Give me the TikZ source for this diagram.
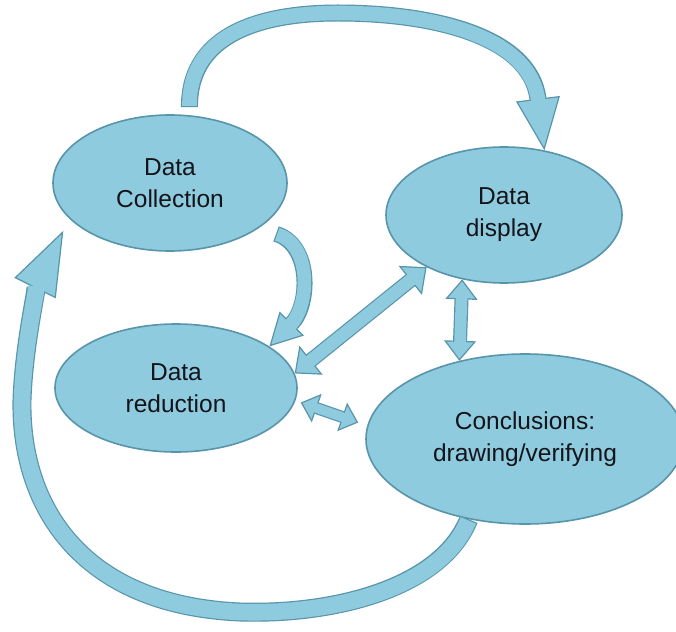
\documentclass[tikz,border=0pt]{standalone}
\usepackage{fontspec}
\setmainfont{Liberation Sans}
\usetikzlibrary{shapes.geometric, arrows.meta, calc}
\definecolor{fillblue}{RGB}{142,203,223}
\definecolor{edgeblue}{RGB}{88,148,170}
\definecolor{inkgray}{RGB}{20,20,25}

\begin{document}
\begin{tikzpicture}[x=1pt, y=-1pt,
      blob/.style={ellipse, draw=edgeblue, fill=fillblue, line width=1.6pt,
        inner sep=0pt, align=center, text=inkgray,
        font=\fontsize{24.5}{32}\selectfont},
      band/.style args={#1/#2/#3}{draw=edgeblue, line width=#1,
        arrows={-Triangle[length=#2, width=#3, fill=fillblue, line width=1.2pt]},
        postaction={draw=fillblue, line width=#1-2.4pt, arrows=-,
          shorten <=1.2pt, shorten >=#2-2pt}},
      twoband/.style args={#1/#2/#3}{draw=edgeblue, line width=#1,
        arrows={Triangle[length=#2, width=#3, fill=fillblue, line width=1.2pt]-Triangle[length=#2, width=#3, fill=fillblue, line width=1.2pt]},
        postaction={draw=fillblue, line width=#1-2.4pt, arrows=-,
          shorten <=#2-2pt, shorten >=#2-2pt}}]
    \clip (0,0) rectangle (676,631);
    \fill[white] (0,0) rectangle (676,631);
    \node[blob, minimum width=234pt, minimum height=136pt] (collect) at (170,183)
      {Data\\Collection};
    \node[blob, minimum width=236pt, minimum height=136pt] (display) at (504,215)
      {Data\\display};
    \node[blob, minimum width=242pt, minimum height=128pt] (reduce) at (176,388)
      {Data\\reduction};
    \node[blob, minimum width=318pt, minimum height=170pt] (conclude) at (525,439)
      {Conclusions:\\drawing/verifying};
    \draw[band=17pt/52pt/44pt] ([yshift=8pt]collect.74)
      .. controls (189,40) and (250,13) .. (338,13)
      .. controls (430,13) and (530,35) .. (display.58);
    \draw[band=16pt/32pt/34pt] ([shift={(14pt,-8pt)}]collect.-25)
      .. controls (312,245) and (310,305) .. (reduce.24);
    \draw[band=19pt/64pt/46pt] (conclude.235)
      .. controls (440,590) and (330,615) .. (240,612)
      .. controls (80,605) and (20,505) .. (22,400)
      .. controls (24,340) and (40,278) .. ([shift={(-13pt,-6pt)}]collect.204);
    \draw[twoband=15pt/21pt/37pt] (reduce.7) -- (display.214);
    \draw[twoband=14pt/20pt/32pt] (display.237) -- (conclude.130);
    \draw[twoband=12pt/17pt/30pt] ([xshift=6pt]reduce.-7) -- ([xshift=-10pt]conclude.174);
\end{tikzpicture}
\end{document}
